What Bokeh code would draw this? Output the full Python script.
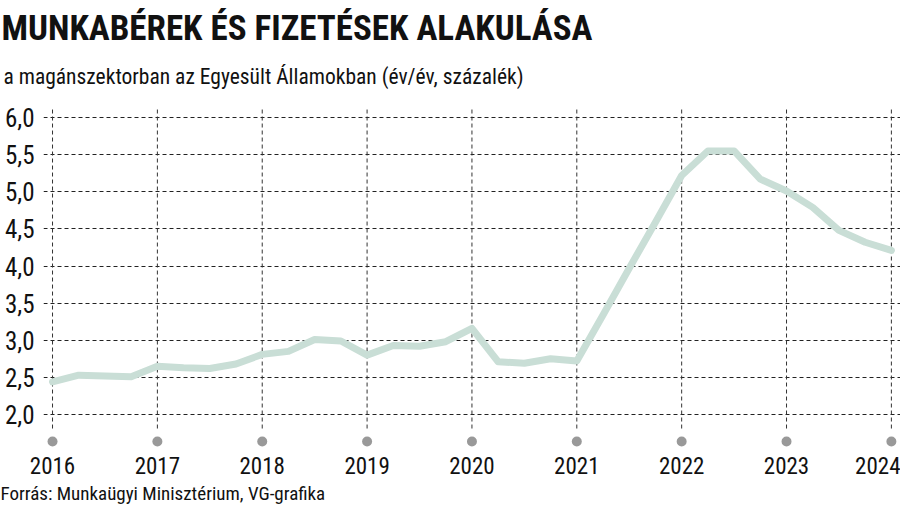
from bokeh.plotting import figure
from bokeh.models import Range1d, FixedTicker, Title, CustomJSTickFormatter
from bokeh.embed import file_html
from bokeh.resources import INLINE

# ---- data ----
years = [2016, 2017, 2018, 2019, 2020, 2021, 2022, 2023, 2024]
year_labels = ["2016", "2017", "2018", "2019", "2020", "2021", "2022", "2023", "2024"]
quarters = [1, 2, 3, 4]
wages = [
    2.44, 2.53, 2.52, 2.51,   # 2016
    2.65, 2.63, 2.62, 2.68,   # 2017
    2.81, 2.85, 3.01, 2.99,   # 2018
    2.80, 2.93, 2.92, 2.98,   # 2019
    3.16, 2.71, 2.69, 2.75,   # 2020
    2.72, 3.34, 3.97, 4.59,   # 2021
    5.22, 5.55, 5.55, 5.17,   # 2022
    5.01, 4.79, 4.48, 4.32,   # 2023
    4.21,                     # 2024
]
y_ticks = [2.0, 2.5, 3.0, 3.5, 4.0, 4.5, 5.0, 5.5, 6.0]

title_text = "MUNKABÉREK ÉS FIZETÉSEK ALAKULÁSA"
subtitle_text = "a magánszektorban az Egyesült Államokban (év/év, százalék)"
source_text = "Forrás: Munkaügyi Minisztérium, VG-grafika"

periods = [y + (q - 1) / 4 for y in years for q in quarters][: len(wages)]

FONT = "'Roboto Condensed', 'DejaVu Sans Condensed', sans-serif"

p = figure(
    width=900, height=522,
    x_range=Range1d(2015.914, 2024.087),
    y_range=Range1d(1.542, 6.135),
    output_backend="svg", toolbar_location=None,
    min_border_left=43, min_border_right=0,
    min_border_top=107, min_border_bottom=74,
)
p.outline_line_color = None
p.background_fill_color = "white"
p.border_fill_color = "white"

# horizontal grid
p.ygrid.ticker = FixedTicker(ticks=y_ticks)
p.ygrid.grid_line_color = "#222222"
p.ygrid.grid_line_dash = "4 3"
p.ygrid.grid_line_width = 1
p.xgrid.grid_line_color = None

# vertical dashed year lines
p.segment(x0=years, y0=[1.811] * len(years), x1=years, y1=[6.135] * len(years),
          line_color="#333333", line_dash="4 3", line_width=1)

# series line
p.line(periods, wages, line_color="#c9ded6", line_width=7, line_join="round", line_cap="round")

# grey year dots
p.scatter(years, [1.636] * len(years), size=10, fill_color="#999999", line_color=None)

# y axis
p.yaxis.ticker = FixedTicker(ticks=y_ticks)
p.yaxis.formatter = CustomJSTickFormatter(code="return tick.toFixed(1).replace('.', ',');")
p.yaxis.axis_line_color = None
p.yaxis.major_tick_line_color = None
p.yaxis.minor_tick_line_color = None
p.yaxis.major_tick_out = 0
p.yaxis.major_tick_in = 0
p.yaxis.minor_tick_out = 0
p.yaxis.major_label_standoff = 9
p.yaxis.major_label_text_font = FONT
p.yaxis.major_label_text_font_size = "25px"
p.yaxis.major_label_text_color = "#111111"

# x axis
p.xaxis.ticker = FixedTicker(ticks=years)
p.xaxis.major_label_overrides = {y: l for y, l in zip(years, year_labels)}
p.xaxis.axis_line_color = None
p.xaxis.major_tick_line_color = None
p.xaxis.minor_tick_line_color = None
p.xaxis.major_tick_out = 0
p.xaxis.major_tick_in = 0
p.xaxis.minor_tick_out = 0
p.xaxis.major_label_standoff = 8
p.xaxis.major_label_text_font = FONT
p.xaxis.major_label_text_font_size = "23px"
p.xaxis.major_label_text_color = "#111111"

# titles
sub = Title(text=subtitle_text, align="left", offset=-40, text_font=FONT,
            text_font_size="21.5px", text_font_style="normal", text_color="#111111",
            standoff=37)
p.add_layout(sub, "above")
ttl = Title(text=title_text, align="left", offset=-42, text_font=FONT,
            text_font_size="35px", text_font_style="bold", text_color="#111111",
            standoff=-10)
p.add_layout(ttl, "above")

src = Title(text=source_text, align="left", offset=-43, text_font=FONT,
            text_font_size="19px", text_font_style="normal", text_color="#111111",
            standoff=6)
p.add_layout(src, "below")

open("out.html", "w").write(file_html(p, INLINE))
